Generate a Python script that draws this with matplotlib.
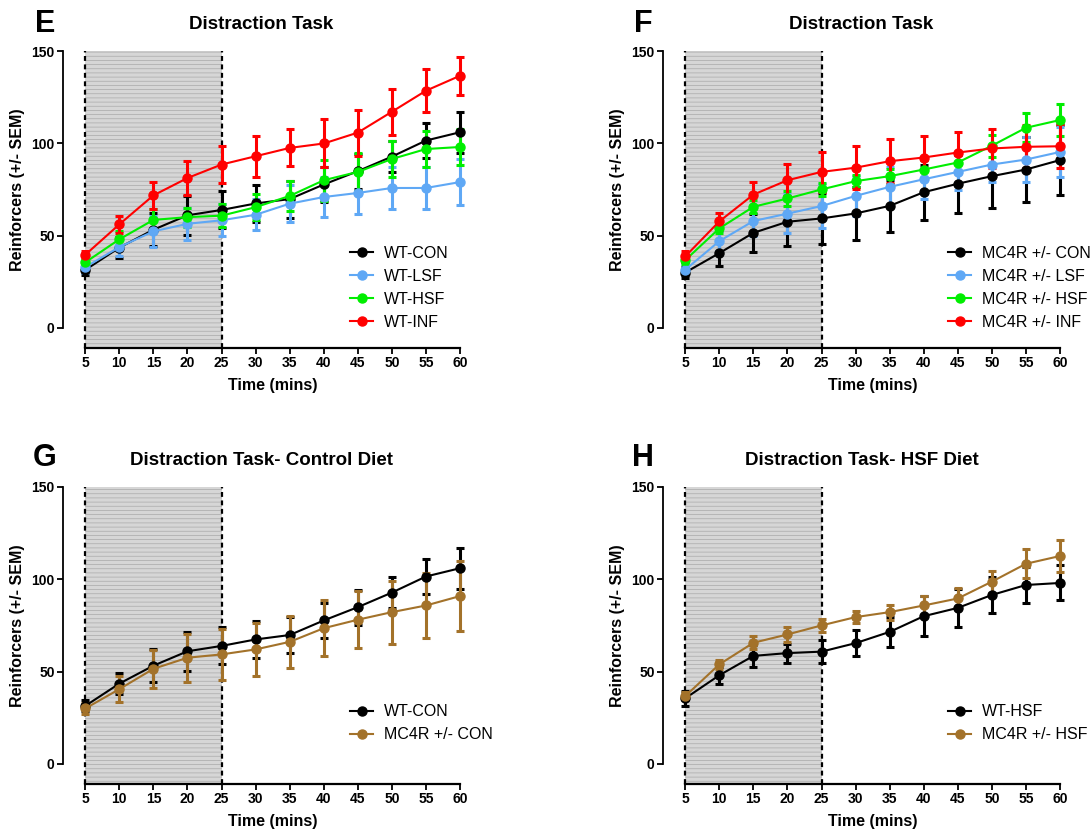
import matplotlib
matplotlib.use('Agg')
import matplotlib.pyplot as plt
from matplotlib.lines import Line2D

plt.rcParams['font.family'] = ['Liberation Sans', 'DejaVu Sans']
plt.rcParams['hatch.linewidth'] = 0.5
plt.rcParams['hatch.color'] = '#a9a9a9'

## time points (mins)
time = [5, 10, 15, 20, 25, 30, 35, 40, 45, 50, 55, 60]

## WT groups
wt_con = [31.4, 43.5, 53.2, 61.0, 63.9, 67.4, 69.8, 77.7, 84.9, 92.8, 101.5, 106.0]
wt_con_sem = [3.0, 5.5, 9.0, 10.5, 10.0, 10.0, 10.0, 9.5, 9.5, 8.5, 9.5, 11.0]
wt_lsf = [32.9, 43.8, 52.3, 56.4, 58.3, 61.3, 67.3, 70.9, 73.1, 75.8, 75.8, 79.0]
wt_lsf_sem = [3.0, 5.0, 8.5, 8.6, 8.7, 8.5, 10.0, 11.0, 11.2, 11.6, 11.4, 12.5]
wt_hsf = [35.5, 48.0, 58.5, 60.0, 60.8, 65.4, 71.5, 80.0, 84.5, 91.5, 96.9, 98.0]
wt_hsf_sem = [4.0, 4.5, 6.0, 5.2, 6.2, 7.0, 8.2, 11.0, 10.5, 10.0, 9.6, 9.5]
wt_inf = [39.6, 56.1, 71.8, 81.2, 88.5, 93.0, 97.5, 99.9, 105.8, 117.1, 128.5, 136.6]
wt_inf_sem = [2.0, 4.5, 7.5, 9.0, 10.0, 11.0, 10.0, 13.0, 12.5, 12.4, 11.5, 10.3]

## MC4R +/- groups
mc_con = [30.0, 40.5, 51.5, 57.5, 59.3, 62.0, 66.1, 73.5, 78.1, 82.2, 85.8, 90.9]
mc_con_sem = [3.0, 7.0, 10.4, 13.0, 14.0, 14.5, 14.0, 15.0, 15.6, 17.0, 17.8, 18.8]
mc_lsf = [31.5, 47.0, 57.9, 61.9, 66.0, 71.5, 76.4, 80.5, 84.5, 88.5, 91.2, 95.3]
mc_lsf_sem = [3.0, 5.5, 8.0, 10.5, 12.0, 11.0, 11.0, 10.5, 10.0, 9.5, 12.0, 13.5]
mc_hsf = [36.7, 53.9, 65.6, 70.1, 75.0, 79.5, 82.2, 85.8, 89.6, 98.7, 108.4, 112.6]
mc_hsf_sem = [2.0, 2.5, 3.5, 4.2, 3.7, 3.2, 4.0, 5.0, 5.6, 6.0, 7.8, 8.8]
mc_inf = [38.7, 57.7, 72.2, 80.0, 84.5, 86.8, 90.3, 92.3, 95.0, 97.2, 98.1, 98.4]
mc_inf_sem = [3.0, 4.7, 6.8, 8.8, 11.0, 11.6, 12.0, 11.5, 11.3, 10.6, 11.7, 12.0]

BLACK = 'black'
BLUE = '#5fa8f5'
GREEN = '#00ee00'
RED = '#ff0000'
BROWN = '#a3722a'

fig = plt.figure(figsize=(10.92, 8.32), dpi=100)


def panel(rect, letter, title, series, leg_anchor):
    ax = fig.add_axes(rect)
    ax.set_xlim(1.73, 60)
    ax.set_ylim(-10.9, 150)

    ## shaded distraction period
    ax.fill_between([5, 25], -10.9, 150, facecolor='#d6d6d6', hatch='----',
                    edgecolor='none', linewidth=0, zorder=0)
    for xv in [5, 25]:
        ax.plot([xv, xv], [-10.9, 150], color='black', lw=1.6,
                ls=(0, (2.2, 1.6)), zorder=1, clip_on=False)

    handles = []
    for y, sem, col, lab in series:
        ax.errorbar(time, y, yerr=sem, fmt='o-', color=col, ecolor=col,
                    lw=1.5, ms=6.5, elinewidth=2.2, capsize=3, capthick=2.2,
                    clip_on=False, zorder=3)
        handles.append(Line2D([], [], color=col, marker='o', ms=6.5, lw=1.5, label=lab))

    for s in ['top', 'right']:
        ax.spines[s].set_visible(False)
    ax.spines['left'].set_bounds(0, 150)
    ax.spines['bottom'].set_bounds(5, 60)
    ax.spines['left'].set_linewidth(1.3)
    ax.spines['bottom'].set_linewidth(1.6)
    ax.set_yticks([0, 50, 100, 150])
    ax.set_xticks(time)
    ax.tick_params(direction='out', length=4, width=1.3, labelsize=10, pad=2)
    for t in ax.get_xticklabels() + ax.get_yticklabels():
        t.set_fontweight('bold')
    ax.set_xlabel('Time (mins)', fontsize=11.5, fontweight='bold')
    ax.set_ylabel('Reinforcers (+/- SEM)', fontsize=11.5, fontweight='bold')
    ## labels centred on the drawn axis lines
    ax.xaxis.set_label_coords(0.528, -0.102)
    ax.yaxis.set_label_coords(-0.095, 0.534)
    ax.set_title(title, fontsize=13.5, fontweight='bold', pad=16)

    ax.legend(handles=handles, loc='upper left', bbox_to_anchor=leg_anchor,
              frameon=False, fontsize=11.5, handlelength=1.45, handletextpad=0.7,
              labelspacing=0.5, borderpad=0, borderaxespad=0)
    fig.text(letter[1], letter[2], letter[0], fontsize=22, fontweight='bold',
             va='baseline')
    return ax


w, h = 0.3636, 0.3570
panel([0.0577, 0.5817, w, h], ('E', 0.032, 0.962), 'Distraction Task',
      [(wt_con, wt_con_sem, BLACK, 'WT-CON'),
       (wt_lsf, wt_lsf_sem, BLUE, 'WT-LSF'),
       (wt_hsf, wt_hsf_sem, GREEN, 'WT-HSF'),
       (wt_inf, wt_inf_sem, RED, 'WT-INF')], (0.723, 0.345))

panel([0.6071, 0.5817, w, h], ('F', 0.581, 0.962), 'Distraction Task',
      [(mc_con, mc_con_sem, BLACK, 'MC4R +/- CON'),
       (mc_lsf, mc_lsf_sem, BLUE, 'MC4R +/- LSF'),
       (mc_hsf, mc_hsf_sem, GREEN, 'MC4R +/- HSF'),
       (mc_inf, mc_inf_sem, RED, 'MC4R +/- INF')], (0.718, 0.345))

panel([0.0577, 0.0577, w, h], ('G', 0.03, 0.44), 'Distraction Task- Control Diet',
      [(wt_con, wt_con_sem, BLACK, 'WT-CON'),
       (mc_con, mc_con_sem, BROWN, 'MC4R +/- CON')], (0.723, 0.268))

panel([0.6071, 0.0577, w, h], ('H', 0.579, 0.44), 'Distraction Task- HSF Diet',
      [(wt_hsf, wt_hsf_sem, BLACK, 'WT-HSF'),
       (mc_hsf, mc_hsf_sem, BROWN, 'MC4R +/- HSF')], (0.718, 0.268))

fig.savefig('out.png', dpi=100)
